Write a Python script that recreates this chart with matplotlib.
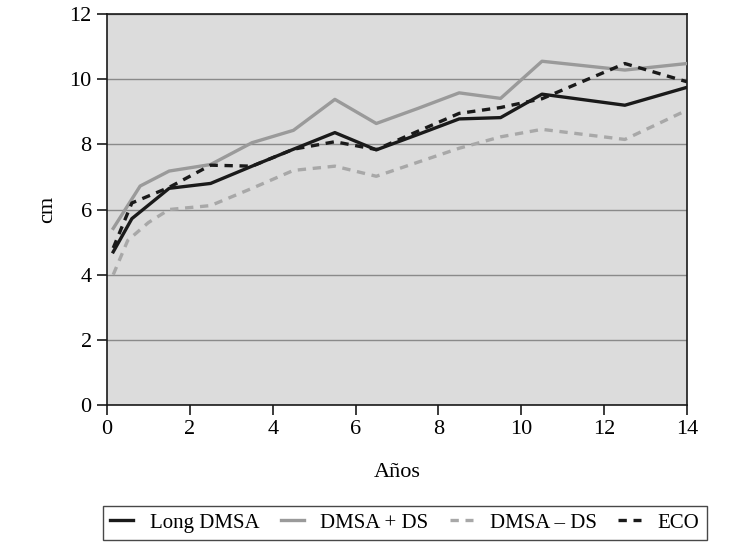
import matplotlib
matplotlib.use("Agg")
import matplotlib.pyplot as plt

plt.rcParams['font.family'] = ['Liberation Serif', 'DejaVu Serif']

x_long = [0.15, 0.6, 1.5, 2.5, 3.5, 4.5, 5.5, 6.5, 7.5, 8.5, 9.5, 10.5, 12.5, 14]
y_long = [4.7, 5.72, 6.65, 6.8, 7.33, 7.85, 8.36, 7.83, 8.3, 8.78, 8.82, 9.54, 9.2, 9.75]

x_plus = [0.15, 0.8, 1.5, 2.5, 3.5, 4.5, 5.5, 6.5, 7.5, 8.5, 9.5, 10.5, 12.5, 14]
y_plus = [5.42, 6.72, 7.18, 7.38, 8.05, 8.43, 9.38, 8.64, 9.1, 9.58, 9.41, 10.55, 10.28, 10.48]

x_minus = [0.15, 0.5, 1.0, 1.5, 2.5, 3.5, 4.5, 5.5, 6.5, 7.5, 8.5, 9.5, 10.5, 12.5, 14]
y_minus = [4.0, 5.05, 5.6, 6.0, 6.12, 6.65, 7.2, 7.33, 7.02, 7.45, 7.88, 8.23, 8.46, 8.15, 9.05]

x_eco = [0.15, 0.6, 1.5, 2.5, 3.5, 4.5, 5.5, 6.5, 7.5, 8.5, 9.5, 10.5, 12.5, 14]
y_eco = [4.82, 6.2, 6.68, 7.36, 7.33, 7.85, 8.08, 7.84, 8.4, 8.95, 9.13, 9.4, 10.48, 9.92]

labels = ["Long DMSA", "DMSA + DS", "DMSA \u2013 DS", "ECO"]
x_ticks = [0, 2, 4, 6, 8, 10, 12, 14]
y_ticks = [0, 2, 4, 6, 8, 10, 12]

fig = plt.figure(figsize=(7.3, 5.47), dpi=100)
ax = fig.add_axes([0.1466, 0.2596, 0.7945, 0.7148])
ax.set_facecolor('#dcdcdc')

lw = 2.4
ax.plot(x_long, y_long, color='#1a1a1a', lw=lw, label=labels[0], zorder=4)
ax.plot(x_plus, y_plus, color='#9a9a9a', lw=lw, label=labels[1], zorder=3)
ax.plot(x_minus, y_minus, color='#a8a8a8', lw=lw, ls=(0, (2.5, 2.0)), label=labels[2], zorder=3)
ax.plot(x_eco, y_eco, color='#1a1a1a', lw=lw, ls=(0, (2.5, 2.0)), label=labels[3], zorder=5)

ax.set_xlim(0, 14)
ax.set_ylim(0, 12)
ax.set_xticks(x_ticks)
ax.set_yticks(y_ticks)
ax.yaxis.grid(True, color='#8a8a8a', lw=1.0)
ax.set_axisbelow(True)
for s in ax.spines.values():
    s.set_color('#1a1a1a')
    s.set_linewidth(1.2)
ax.tick_params(axis='both', direction='out', length=7, width=1.2, color='#1a1a1a',
               labelsize=16, pad=4)
ax.set_xlabel("A\u00f1os", fontsize=16, labelpad=17)
ax.set_ylabel("cm", fontsize=16, labelpad=9)

handles, labs = ax.get_legend_handles_labels()
leg = fig.legend(handles, labs, loc='lower left', bbox_to_anchor=(0.141, 0.0128, 0.827, 0.0695),
                 mode='expand', ncol=4, fontsize=15, frameon=True, fancybox=False,
                 handlelength=1.1, handletextpad=0.8, columnspacing=1.0, borderaxespad=0,
                 borderpad=0.35)
leg.get_frame().set_edgecolor('#1a1a1a')
leg.get_frame().set_linewidth(1.0)

fig.savefig("out.png", dpi=100)
